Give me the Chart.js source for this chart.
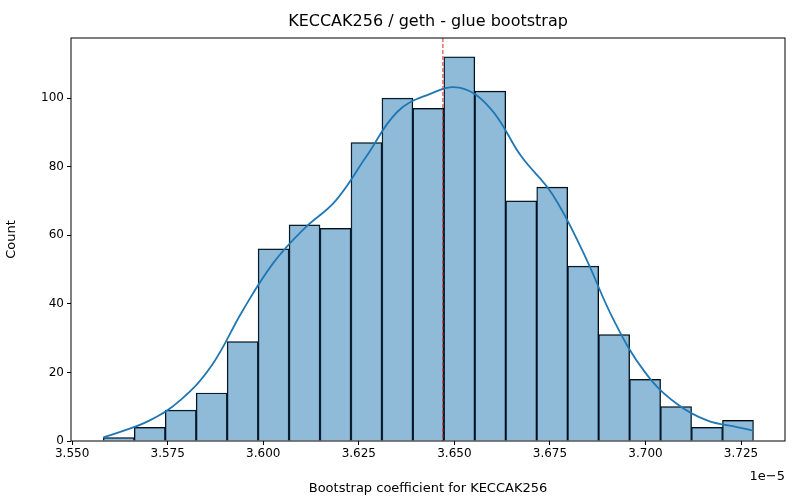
<!DOCTYPE html>
<html><head><meta charset="utf-8">
<script src="https://cdn.jsdelivr.net/npm/chart.js@4"></script>
<style>html,body{margin:0;padding:0;background:#fff}#w{width:800px;height:500px}</style>
</head><body><div id="w"><canvas id="c"></canvas></div>
<script>
const binCenters=[3.5622,3.5703,3.5784,3.5865,3.5946,3.6027,3.6108,3.6189,3.6270,3.6351,3.6432,3.6513,3.6594,3.6675,3.6756,3.6837,3.6918,3.6999,3.7080,3.7161,3.7242];
const counts=[1,4,9,14,29,56,63,62,87,100,97,112,102,70,74,51,31,18,10,4,6];
const kdeX=[3.5581,3.5622,3.5703,3.5784,3.5865,3.5946,3.6027,3.6108,3.6189,3.6270,3.6351,3.6432,3.6513,3.6594,3.6675,3.6756,3.6837,3.6918,3.6999,3.7080,3.7161,3.7242,3.7282];
const kdeY=[1,2.5,6,12,22,38,52,62,70,83,96,101,103,97,83,72,55,35,20,11,6,4,3];
const meanValue=3.6470;
const xTicks=[3.550,3.575,3.600,3.625,3.650,3.675,3.700,3.725];
const yTicks=[0,20,40,60,80,100];
const F='DejaVu Sans';
const deco={id:'deco',afterDraw(ch){const c=ch.ctx,a=ch.chartArea;c.save();
 const xm=ch.scales.x.getPixelForValue(meanValue);
 c.strokeStyle='#d62728';c.lineWidth=1;c.setLineDash([4,2]);c.beginPath();c.moveTo(xm,a.top);c.lineTo(xm,a.bottom);c.stroke();c.setLineDash([]);
 c.strokeStyle='#000';c.lineWidth=1;c.strokeRect(a.left,a.top,a.right-a.left,a.bottom-a.top);
 c.fillStyle='#000';c.font='16px '+F;c.textAlign='center';c.textBaseline='middle';c.fillText('KECCAK256 / geth - glue bootstrap',(a.left+a.right)/2,22);
 c.font='13px '+F;c.textAlign='right';c.fillText('1e\u22125',a.right,477);c.restore();}};
new Chart(document.getElementById('c'),{
 data:{datasets:[
  {type:'line',data:kdeX.map((x,i)=>({x,y:kdeY[i]})),borderColor:'#1f77b4',borderWidth:1.8,pointRadius:0,tension:0.4,order:0},
  {type:'bar',data:binCenters.map((x,i)=>({x,y:counts[i]})),backgroundColor:'rgba(31,119,180,0.5)',borderColor:'#000',borderWidth:0.8,barPercentage:1,categoryPercentage:1,order:1}
 ]},
 plugins:[deco],
 options:{responsive:true,maintainAspectRatio:false,animation:false,
  layout:{padding:{top:38,right:15,left:0,bottom:0}},
  plugins:{legend:{display:false},tooltip:{enabled:false}},
  scales:{
   x:{type:'linear',offset:false,min:3.5497,max:3.7365,grid:{display:true,drawOnChartArea:false,drawTicks:true,tickLength:4,color:'#000',offset:false},border:{display:false},
     afterBuildTicks:s=>{s.ticks=xTicks.map(v=>({value:v}));},
     afterFit:s=>{s.height=59;},
     ticks:{color:'#000',font:{family:F,size:12},padding:2,callback:v=>v.toFixed(3),maxRotation:0,autoSkip:false},
     title:{display:true,text:'Bootstrap coefficient for KECCAK256',color:'#000',font:{family:F,size:13},padding:{top:0}}},
   y:{min:0,max:117.5,grid:{display:true,drawOnChartArea:false,tickLength:4,color:'#000'},border:{display:false},
     afterBuildTicks:s=>{s.ticks=yTicks.map(v=>({value:v}));},
     afterFit:s=>{s.width=71;},
     ticks:{color:'#000',font:{family:F,size:12},padding:3,autoSkip:false},
     title:{display:true,text:'Count',color:'#000',font:{family:F,size:13},padding:{bottom:4}}}
  }}
});
</script></body></html>
